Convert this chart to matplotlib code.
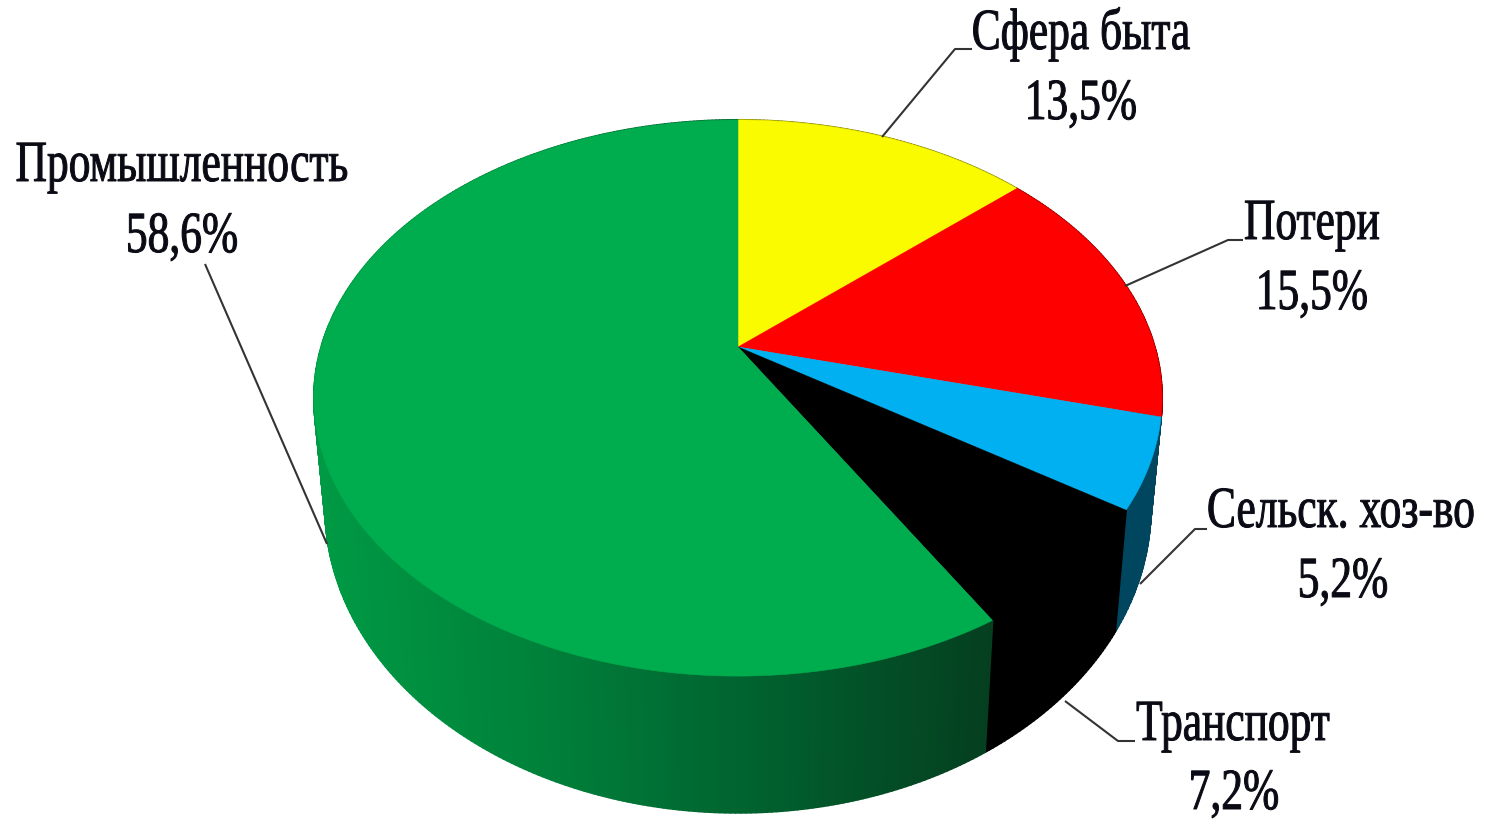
import numpy as np
import matplotlib
matplotlib.use("Agg")
import matplotlib.pyplot as plt
from matplotlib.collections import PolyCollection
from matplotlib.patches import Polygon
from matplotlib.patheffects import AbstractPathEffect
from matplotlib.transforms import Affine2D

categories = ["Сфера быта", "Потери", "Сельск. хоз-во", "Транспорт", "Промышленность"]
values = [13.5, 15.5, 5.2, 7.2, 58.6]
top_colors = ["#FBFB00", "#FF0000", "#00B0F0", "#000000", "#00AD4E"]
side_colors = ["#8C8C00", "#8C0000", "#00465F", "#000000", None]

# label layout: name centre x, value centre x, name baseline, value baseline, leader line
label_pos = [
    (1081, 1081, 50, 120, [(882, 138), (955, 50), (972, 50)]),
    (1312, 1312, 240, 310, [(1125, 287), (1228, 241), (1243, 241)]),
    (1341, 1343, 528, 598, [(1140, 585), (1195, 530), (1207, 530)]),
    (1233, 1234, 741, 810, [(1065, 702), (1118, 742), (1135, 742)]),
    (182, 182, 182, 253, [(205, 265), (327, 545)]),
]

APEX = (738.0, 348.0)
TOP_RIM = dict(a=416.8, p=268.7, k=0.1835, y0=348.0)
LOW_RIM = dict(a=406.0, p=295.0, k=0.18, y0=454.0)
GRAD_X = [325, 550, 738, 880, 990]
GRAD_RGB = np.array([[0, 154, 68], [0, 128, 58], [0, 100, 48], [3, 78, 38], [5, 62, 32]]) / 255
TEXT_STRETCH = 1.34
TEXT_COLOR = "#0a0a14"
FIG_H = 820


class TallGlyphs(AbstractPathEffect):
    """Stretch the glyphs vertically about their baseline, with a slight embolden."""

    def __init__(self, baseline_y, sy, color):
        super().__init__()
        self.by, self.sy, self.color = baseline_y, sy, color

    def draw_path(self, renderer, gc, tpath, affine, rgbFace=None):
        aff = affine + Affine2D().translate(0, -self.by).scale(1, self.sy).translate(0, self.by)
        gc0 = renderer.new_gc()
        gc0.copy_properties(gc)
        gc0.set_linewidth(0.7)
        gc0.set_foreground(self.color)
        renderer.draw_path(gc0, tpath, aff, rgbFace)
        gc0.restore()


def rim(theta, r):
    s, c = np.sin(theta), np.cos(theta)
    w = 1 + r["k"] * c
    return APEX[0] + r["a"] * s / w, r["y0"] - r["p"] * c / w


def green_side(x):
    return [np.interp(x, GRAD_X, GRAD_RGB[:, i]) for i in range(3)]


plt.rcParams["font.family"] = ["Liberation Serif", "DejaVu Serif"]
fig = plt.figure(figsize=(14.88, 8.2), dpi=100, facecolor="white")
ax = fig.add_axes([0, 0, 1, 1])
ax.set_xlim(0, 1488)
ax.set_ylim(FIG_H, 0)
ax.axis("off")

edges = 2 * np.pi * np.concatenate([[0], np.cumsum(values)]) / sum(values)

# side walls
for i in range(len(values)):
    th = np.linspace(edges[i], edges[i + 1], max(int(values[i] * 6), 2) + 1)
    tx, ty = rim(th, TOP_RIM)
    bx, by = rim(th, LOW_RIM)
    quads, cols = [], []
    for j in range(len(th) - 1):
        quads.append([(tx[j], ty[j]), (tx[j + 1], ty[j + 1]), (bx[j + 1], by[j + 1]), (bx[j], by[j])])
        cols.append(side_colors[i] if side_colors[i] else green_side((bx[j] + bx[j + 1]) / 2))
    ax.add_collection(PolyCollection(quads, facecolors=cols, edgecolors=cols, linewidths=1.4, zorder=2))

# top faces
for i in range(len(values)):
    th = np.linspace(edges[i], edges[i + 1], 200)
    tx, ty = rim(th, TOP_RIM)
    pts = np.vstack([[APEX], np.column_stack([tx, ty])])
    ax.add_patch(Polygon(pts, closed=True, facecolor=top_colors[i], edgecolor=top_colors[i], linewidth=0.4, zorder=3))


def add_label(cx, y, s):
    t = ax.text(cx, y, s, fontsize=31.3, ha="center", va="baseline", color=TEXT_COLOR, zorder=5)
    t.set_path_effects([TallGlyphs(FIG_H - y, TEXT_STRETCH, TEXT_COLOR)])


# labels
for name, v, (cx, vx, y1, y2, line) in zip(categories, values, label_pos):
    xs, ys = zip(*line)
    ax.plot(xs, ys, color="#333333", lw=1.5, zorder=4, solid_capstyle="butt")
    add_label(cx, y1, name)
    add_label(vx, y2, f"{v:.1f}%".replace(".", ","))

fig.savefig("out.png", dpi=100)
